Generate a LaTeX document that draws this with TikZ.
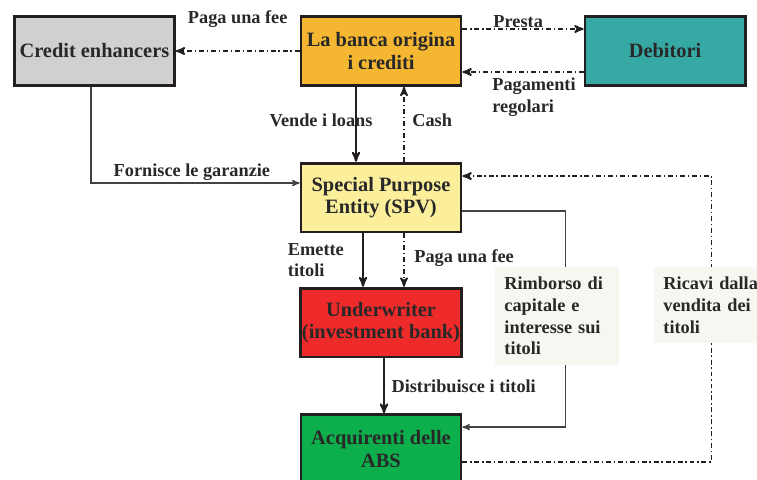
\documentclass[tikz,border=0pt]{standalone}
\usepackage{fontspec}
\setmainfont{Liberation Serif}
\usetikzlibrary{arrows}

\definecolor{inkc}{RGB}{35,31,32}
\definecolor{textc}{RGB}{40,40,40}
\definecolor{enhcol}{RGB}{208,208,208}
\definecolor{bancacol}{RGB}{245,183,49}
\definecolor{debcol}{RGB}{54,169,164}
\definecolor{spvcol}{RGB}{251,239,155}
\definecolor{uwcol}{RGB}{238,42,43}
\definecolor{acqcol}{RGB}{13,175,76}
\definecolor{notecol}{RGB}{247,246,241}

\begin{document}
\begin{tikzpicture}[x=0.025cm,y=-0.025cm,>=stealth',auto,
  entity/.style={draw=inkc,line width=2pt,minimum width=4cm,minimum height=1.72cm,
    align=center,text=textc,font=\fontsize{14.5}{16}\selectfont\bfseries,inner sep=1pt},
  lbl/.style={text=textc,font=\fontsize{13}{15.5}\selectfont\bfseries,inner sep=1pt,align=left},
  note/.style={lbl,anchor=center,fill=notecol,text width=2.65cm,inner xsep=0.225cm,
    inner ysep=0.1cm,minimum height=2.45cm},
  flow/.style={->,draw=inkc,line width=1.4pt},
  cashflow/.style={->,draw=inkc,line width=1.3pt,dash pattern=on 3.5pt off 2pt on 1pt off 2pt},
  thinflow/.style={->,draw=inkc!85,line width=0.9pt}]

\useasboundingbox (0,0) rectangle (757,480);

% define the parties
  \node[entity,fill=bancacol] (banca) at (381,51) {La banca origina\\i crediti};
  \node[entity,fill=enhcol]   (enh)   [node distance=7.1625cm,left of=banca]  {Credit enhancers};
  \node[entity,fill=debcol]   (deb)   [node distance=7.1cm,right of=banca]    {Debitori};
  \node[entity,fill=spvcol]   (spv)   [node distance=3.6625cm,below of=banca] {Special Purpose\\Entity (SPV)};
  \node[entity,fill=uwcol]    (uw)    [node distance=3.125cm,below of=spv]    {Underwriter\\(investment bank)};
  \node[entity,fill=acqcol]   (acq)   [node distance=3.1625cm,below of=uw]    {Acquirenti delle\\ABS};

% define the flows
  \path (banca) edge[cashflow] node[lbl,anchor=center,yshift=0.8cm] {Paga una fee} (enh)
        ([yshift=0.55cm]banca.east) edge[cashflow]
             node[lbl,anchor=base,pos=0.46,yshift=0.03cm] {Presta} ([yshift=0.55cm]deb.west)
        ([yshift=-0.525cm]deb.west) edge[cashflow]
             node[lbl,anchor=north west,pos=0.772,yshift=-0.09cm] {Pagamenti\\regolari} ([yshift=-0.525cm]banca.east)
        ([xshift=-0.625cm]banca.south) edge[flow]
             node[lbl,anchor=center,xshift=-0.875cm,yshift=0.11cm] {Vende i loans} ([xshift=-0.625cm]spv.north)
        ([xshift=0.575cm]spv.north) edge[cashflow]
             node[lbl,anchor=west,xshift=0.15cm,yshift=0.1cm] {Cash} ([xshift=0.575cm]banca.south)
        ([xshift=-0.45cm]spv.south) edge[flow]
             node[lbl,anchor=east,xshift=-0.42cm] {Emette\\titoli} ([xshift=-0.45cm]uw.north)
        ([xshift=0.575cm]spv.south) edge[cashflow]
             node[lbl,anchor=west,xshift=0.2cm,yshift=0.05cm] {Paga una fee} ([xshift=0.575cm]uw.north)
        ([xshift=0.075cm]uw.south) edge[flow]
             node[lbl,anchor=west,xshift=0.13cm] {Distribuisce i titoli} ([xshift=0.075cm]acq.north);

  \draw[thinflow] ([xshift=-0.0875cm]enh.south) |-
       node[lbl,pos=0.742,anchor=base,yshift=0.175cm] {Fornisce le garanzie} ([yshift=0.3625cm]spv.west);

  \draw[thinflow] ([yshift=-0.3375cm]spv.east) -- ++(2.575cm,0) |-
       node[note,pos=0.243,xshift=-0.2cm] {Rimborso di\\capitale e\\interesse sui\\titoli} ([yshift=0.55cm]acq.east);

  \draw[cashflow] ([yshift=-0.325cm]acq.east) -- ++(6.225cm,0) |-
       node[note,text width=2.5cm,minimum height=1.9cm,pos=0.2745,xshift=0.05cm] {Ricavi dalla\\vendita dei\\titoli} ([yshift=0.5375cm]spv.east);

\end{tikzpicture}
\end{document}
